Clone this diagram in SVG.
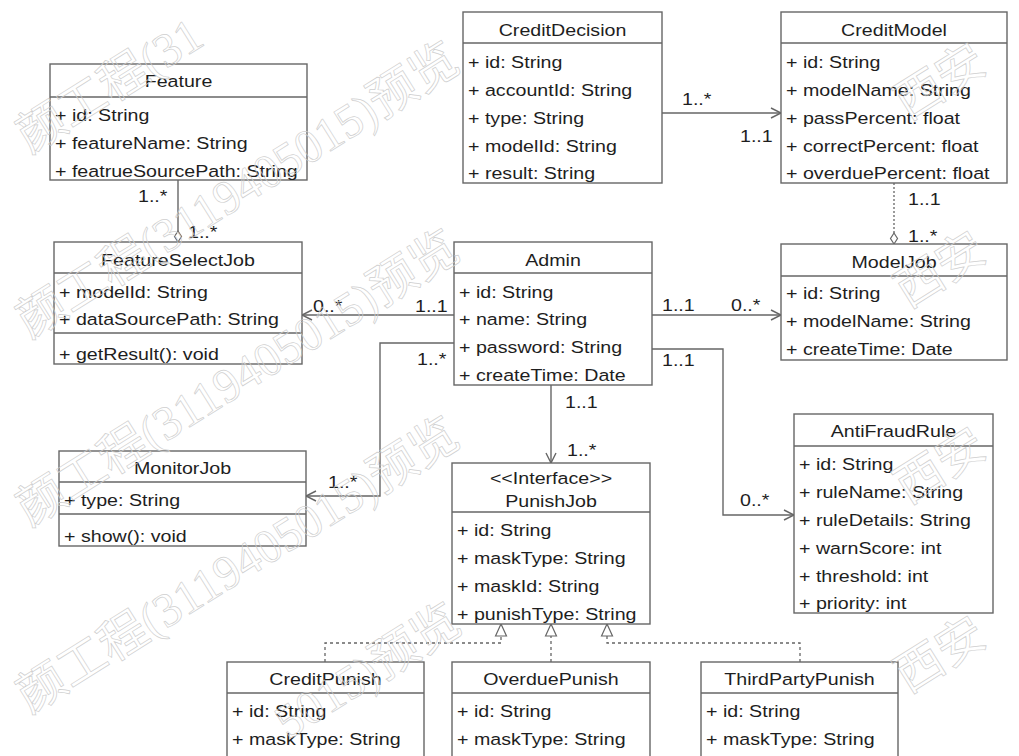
<svg xmlns="http://www.w3.org/2000/svg" width="1019" height="756" viewBox="0 0 1019 756">
<defs>
<style>
text{font-family:"Liberation Sans",Arial,sans-serif;font-size:17px;fill:#1e1e1e}
.c{text-anchor:middle}
.box{fill:#fff;stroke:#666;stroke-width:1.4}
.sep{stroke:#666;stroke-width:1.4}
.ln{fill:none;stroke:#666;stroke-width:1.4}
.dot{fill:none;stroke:#666;stroke-width:1.3;stroke-dasharray:2 2}
.dash{fill:none;stroke:#666;stroke-width:1.3;stroke-dasharray:3 3}
.dia{fill:#fff;stroke:#666;stroke-width:1.2}
.wm text{font-family:"Liberation Serif","Noto Sans CJK SC",serif;font-size:48px;fill:none;stroke:#cfcfcf;stroke-width:0.7}
</style>
<marker id="open" markerWidth="12" markerHeight="12" refX="10" refY="5" orient="auto" markerUnits="userSpaceOnUse" overflow="visible">
<path d="M0,0 L10,5 L0,10" fill="none" stroke="#666" stroke-width="1.4"/>
</marker>
<marker id="tri" markerWidth="14" markerHeight="14" refX="12" refY="5.5" orient="auto" markerUnits="userSpaceOnUse" overflow="visible">
<path d="M0,0 L12,5.5 L0,11 Z" fill="#fff" stroke="#666" stroke-width="1.2"/>
</marker>
</defs>
<rect width="1019" height="756" fill="#fff"/>

<g id="connectors">
<path class="ln" d="M178,180 V231"/>
<polygon class="dia" points="178,242 181.5,236.5 178,231 174.5,236.5"/>
<path class="dot" d="M894,183 V233"/>
<polygon class="dia" points="894,244 897.5,238.5 894,233 890.5,238.5"/>
<path class="ln" d="M662,113 H781" marker-end="url(#open)"/>
<path class="ln" d="M454,315 H302" marker-end="url(#open)"/>
<path class="ln" d="M454,343 H380 V496 H306" marker-end="url(#open)"/>
<path class="ln" d="M652,315 H781" marker-end="url(#open)"/>
<path class="ln" d="M652,349 H723 V515 H794" marker-end="url(#open)"/>
<path class="ln" d="M551,385 V463" marker-end="url(#open)"/>
<path class="dash" d="M325,662 V643 H501 V624" marker-end="url(#tri)"/>
<path class="dash" d="M551,662 V624" marker-end="url(#tri)"/>
<path class="dash" d="M800,662 V643 H607 V624" marker-end="url(#tri)"/>
<text transform="translate(138,202) scale(1.155,1)">1..*</text>
<text transform="translate(188,238) scale(1.155,1)">1..*</text>
<text transform="translate(682,105) scale(1.155,1)">1..*</text>
<text transform="translate(740,142) scale(1.155,1)">1..1</text>
<text transform="translate(908,205) scale(1.155,1)">1..1</text>
<text transform="translate(908,242) scale(1.155,1)">1..*</text>
<text transform="translate(313,312) scale(1.155,1)">0..*</text>
<text transform="translate(415,312) scale(1.155,1)">1..1</text>
<text transform="translate(417,365) scale(1.155,1)">1..*</text>
<text transform="translate(328,488) scale(1.155,1)">1..*</text>
<text transform="translate(662,311) scale(1.155,1)">1..1</text>
<text transform="translate(731,311) scale(1.155,1)">0..*</text>
<text transform="translate(662,366) scale(1.155,1)">1..1</text>
<text transform="translate(740,506) scale(1.155,1)">0..*</text>
<text transform="translate(565,408) scale(1.155,1)">1..1</text>
<text transform="translate(567,456) scale(1.155,1)">1..*</text>
</g>

<g id="Feature">
<rect class="box" x="50" y="64" width="257" height="116"/>
<line class="sep" x1="50" y1="97" x2="307" y2="97"/>
<text class="c" transform="translate(178.5,87) scale(1.155,1)">Feature</text>
<text transform="translate(55,121) scale(1.155,1)">+ id: String</text>
<text transform="translate(55,149) scale(1.155,1)">+ featureName: String</text>
<text transform="translate(55,177) scale(1.155,1)">+ featrueSourcePath: String</text>
</g>

<g id="CreditDecision">
<rect class="box" x="463" y="12" width="199" height="171"/>
<line class="sep" x1="463" y1="43" x2="662" y2="43"/>
<text class="c" transform="translate(562.5,36) scale(1.155,1)">CreditDecision</text>
<text transform="translate(468,68) scale(1.155,1)">+ id: String</text>
<text transform="translate(468,96) scale(1.155,1)">+ accountId: String</text>
<text transform="translate(468,124) scale(1.155,1)">+ type: String</text>
<text transform="translate(468,152) scale(1.155,1)">+ modelId: String</text>
<text transform="translate(468,179) scale(1.155,1)">+ result: String</text>
</g>

<g id="CreditModel">
<rect class="box" x="781" y="12" width="226" height="171"/>
<line class="sep" x1="781" y1="43" x2="1007" y2="43"/>
<text class="c" transform="translate(894,36) scale(1.155,1)">CreditModel</text>
<text transform="translate(786,68) scale(1.155,1)">+ id: String</text>
<text transform="translate(786,96) scale(1.155,1)">+ modelName: String</text>
<text transform="translate(786,124) scale(1.155,1)">+ passPercent: float</text>
<text transform="translate(786,152) scale(1.155,1)">+ correctPercent: float</text>
<text transform="translate(786,179) scale(1.155,1)">+ overduePercent: float</text>
</g>

<g id="FeatureSelectJob">
<rect class="box" x="54" y="242" width="248" height="122"/>
<line class="sep" x1="54" y1="273" x2="302" y2="273"/>
<line class="sep" x1="54" y1="333" x2="302" y2="333"/>
<text class="c" transform="translate(178,266) scale(1.155,1)">FeatureSelectJob</text>
<text transform="translate(59,298) scale(1.155,1)">+ modelId: String</text>
<text transform="translate(59,325) scale(1.155,1)">+ dataSourcePath: String</text>
<text transform="translate(59,360) scale(1.155,1)">+ getResult(): void</text>
</g>

<g id="Admin">
<rect class="box" x="454" y="242" width="198" height="143"/>
<line class="sep" x1="454" y1="273" x2="652" y2="273"/>
<text class="c" transform="translate(553,266) scale(1.155,1)">Admin</text>
<text transform="translate(459,298) scale(1.155,1)">+ id: String</text>
<text transform="translate(459,325) scale(1.155,1)">+ name: String</text>
<text transform="translate(459,353) scale(1.155,1)">+ password: String</text>
<text transform="translate(459,381) scale(1.155,1)">+ createTime: Date</text>
</g>

<g id="ModelJob">
<rect class="box" x="781" y="244" width="226" height="116"/>
<line class="sep" x1="781" y1="276" x2="1007" y2="276"/>
<text class="c" transform="translate(894,268) scale(1.155,1)">ModelJob</text>
<text transform="translate(786,299) scale(1.155,1)">+ id: String</text>
<text transform="translate(786,327) scale(1.155,1)">+ modelName: String</text>
<text transform="translate(786,355) scale(1.155,1)">+ createTime: Date</text>
</g>

<g id="MonitorJob">
<rect class="box" x="59" y="451" width="247" height="95"/>
<line class="sep" x1="59" y1="482" x2="306" y2="482"/>
<line class="sep" x1="59" y1="514" x2="306" y2="514"/>
<text class="c" transform="translate(182.5,474) scale(1.155,1)">MonitorJob</text>
<text transform="translate(64,506) scale(1.155,1)">+ type: String</text>
<text transform="translate(64,542) scale(1.155,1)">+ show(): void</text>
</g>

<g id="AntiFraudRule">
<rect class="box" x="794" y="414" width="199" height="199"/>
<line class="sep" x1="794" y1="446" x2="993" y2="446"/>
<text class="c" transform="translate(893.5,437) scale(1.155,1)">AntiFraudRule</text>
<text transform="translate(799,470) scale(1.155,1)">+ id: String</text>
<text transform="translate(799,498) scale(1.155,1)">+ ruleName: String</text>
<text transform="translate(799,526) scale(1.155,1)">+ ruleDetails: String</text>
<text transform="translate(799,554) scale(1.155,1)">+ warnScore: int</text>
<text transform="translate(799,582) scale(1.155,1)">+ threshold: int</text>
<text transform="translate(799,609) scale(1.155,1)">+ priority: int</text>
</g>

<g id="PunishJob">
<rect class="box" x="452" y="463" width="198" height="161"/>
<line class="sep" x1="452" y1="512" x2="650" y2="512"/>
<text class="c" transform="translate(551,484) scale(1.155,1)">&lt;&lt;Interface&gt;&gt;</text>
<text class="c" transform="translate(551,507) scale(1.155,1)">PunishJob</text>
<text transform="translate(457,536) scale(1.155,1)">+ id: String</text>
<text transform="translate(457,564) scale(1.155,1)">+ maskType: String</text>
<text transform="translate(457,592) scale(1.155,1)">+ maskId: String</text>
<text transform="translate(457,620) scale(1.155,1)">+ punishType: String</text>
</g>

<g id="CreditPunish">
<rect class="box" x="227" y="662" width="197" height="110"/>
<line class="sep" x1="227" y1="693" x2="424" y2="693"/>
<text class="c" transform="translate(325.5,685) scale(1.155,1)">CreditPunish</text>
<text transform="translate(232,717) scale(1.155,1)">+ id: String</text>
<text transform="translate(232,745) scale(1.155,1)">+ maskType: String</text>
</g>

<g id="OverduePunish">
<rect class="box" x="452" y="662" width="198" height="110"/>
<line class="sep" x1="452" y1="693" x2="650" y2="693"/>
<text class="c" transform="translate(551,685) scale(1.155,1)">OverduePunish</text>
<text transform="translate(457,717) scale(1.155,1)">+ id: String</text>
<text transform="translate(457,745) scale(1.155,1)">+ maskType: String</text>
</g>

<g id="ThirdPartyPunish">
<rect class="box" x="701" y="662" width="197" height="110"/>
<line class="sep" x1="701" y1="693" x2="898" y2="693"/>
<text class="c" transform="translate(799.5,685) scale(1.155,1)">ThirdPartyPunish</text>
<text transform="translate(706,717) scale(1.155,1)">+ id: String</text>
<text transform="translate(706,745) scale(1.155,1)">+ maskType: String</text>
</g>

<g class="wm" id="watermark">
<text transform="translate(30,154) rotate(-32)">颜工程(31</text>
<text transform="translate(30,339) rotate(-32)">颜工程(3119405015)预览</text>
<text transform="translate(30,527) rotate(-32)">颜工程(3119405015)预览</text>
<text transform="translate(30,714) rotate(-32)">颜工程(3119405015)预览</text>
<text transform="translate(288,740) rotate(-32)">5015)预览</text>
<text transform="translate(908,121) rotate(-32)">西安</text>
<text transform="translate(908,309) rotate(-32)">西安</text>
<text transform="translate(908,505) rotate(-32)">西安</text>
<text transform="translate(908,694) rotate(-32)">西安</text>
</g>
</svg>
